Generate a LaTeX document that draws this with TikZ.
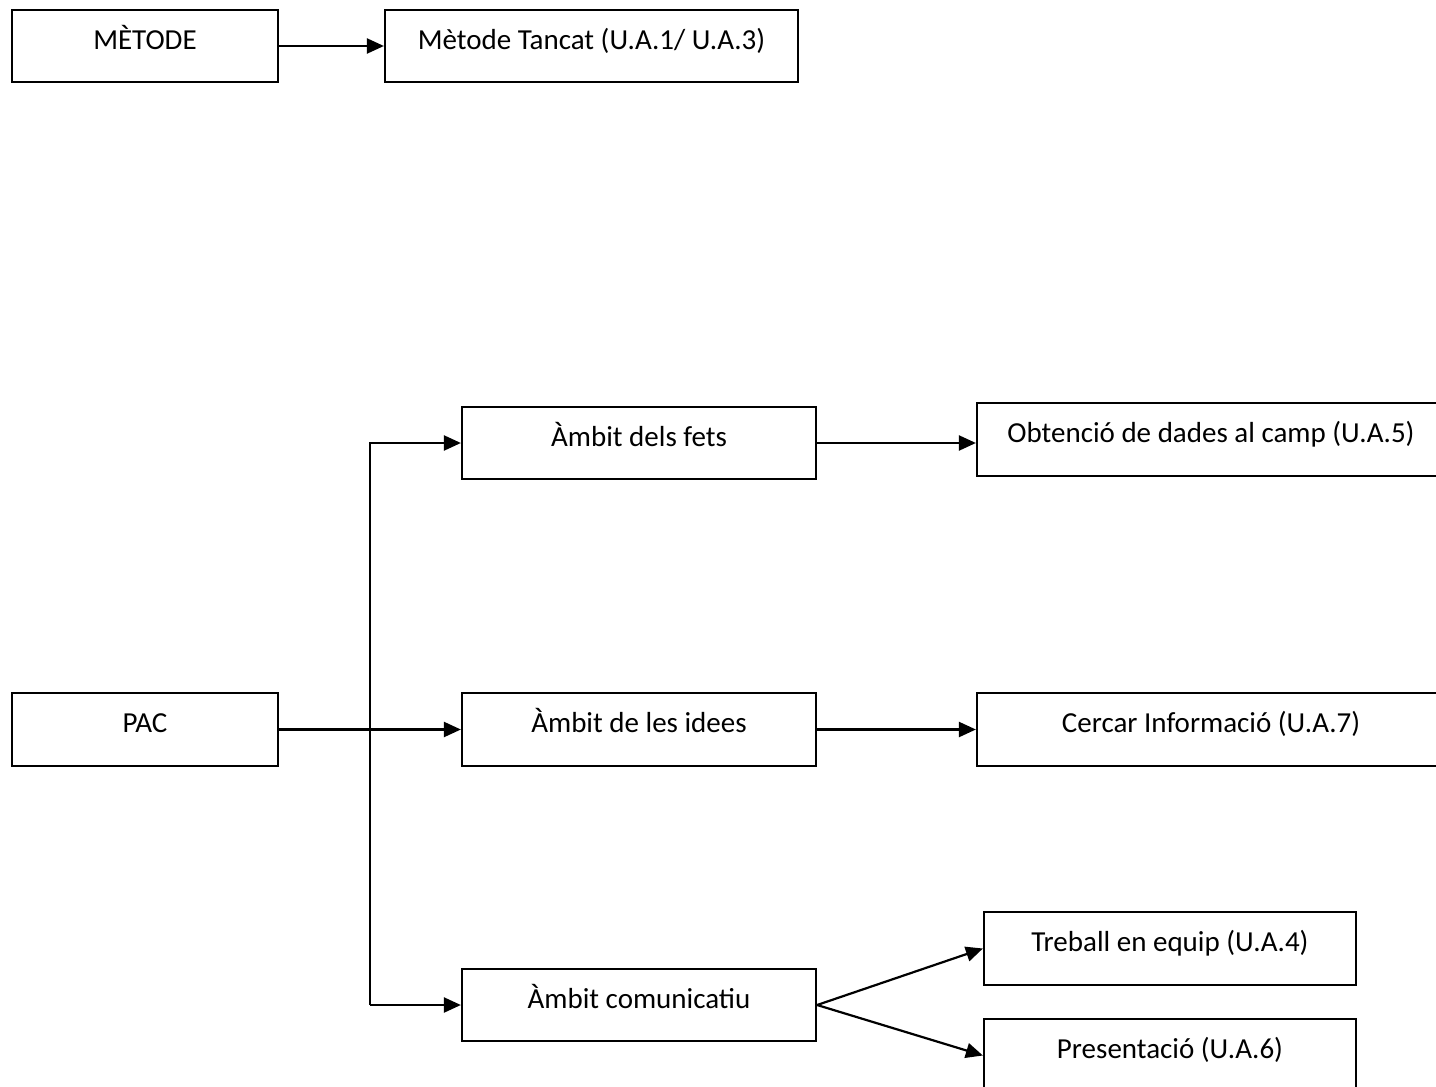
\documentclass[tikz,border=0pt]{standalone}
\usepackage{fontspec}
\setmainfont{Carlito}
\usetikzlibrary{arrows.meta}
\tikzset{
  box/.style={draw=black, line width=2.2pt, rectangle, inner sep=0pt,
    minimum height=73pt, text height=19pt, text depth=13pt,
    font=\fontsize{29pt}{35pt}\selectfont, align=center},
  arr/.style={draw=black, line width=2.2pt, -{Triangle[length=17pt,width=15pt]}},
  plain/.style={draw=black, line width=2.2pt}
}
\begin{document}
\begin{tikzpicture}[x=1pt,y=-1pt]
\clip (0,0) rectangle (1436,1087);
\fill[white] (0,0) rectangle (1436,1087);
% top row
\node[box, minimum width=266pt, minimum height=72pt] (metode) at (145,46) {MÈTODE};
\node[box, minimum width=413pt, minimum height=72pt] (tancat) at (591.5,46) {Mètode Tancat (U.A.1/ U.A.3)};
% PAC tree
\node[box, minimum width=266pt] (pac) at (145,729.5) {PAC};
\node[box, minimum width=354pt, minimum height=72pt] (fets) at (639,443) {Àmbit dels fets};
\node[box, minimum width=354pt] (idees) at (639,729.5) {Àmbit de les idees};
\node[box, minimum width=354pt, minimum height=72pt] (comun) at (639,1005) {Àmbit comunicatiu};
\node[box, minimum width=468pt] (obt) at (1211,439.5) {Obtenció de dades al camp (U.A.5)};
\node[box, minimum width=468pt] (cercar) at (1211,729.5) {Cercar Informació (U.A.7)};
\node[box, minimum width=372pt] (treball) at (1170,948.5) {Treball en equip (U.A.4)};
\node[box, minimum width=372pt] (present) at (1170,1055.5) {Presentació (U.A.6)};
% connectors
\draw[arr] (metode.east) -- (tancat.west);
\coordinate (jb) at (370,1005);
\draw[arr] (pac.east) -- (idees.west);
\draw[arr] (jb) |- (fets.west);
\draw[arr] (jb) -- (comun.west);
\draw[arr] (fets.east) -- (fets.east -| obt.west);
\draw[arr] (idees.east) -- (cercar.west);
\draw[arr] (comun.east) -- (treball.west);
\draw[arr] (comun.east) -- (present.west);
\end{tikzpicture}
\end{document}
